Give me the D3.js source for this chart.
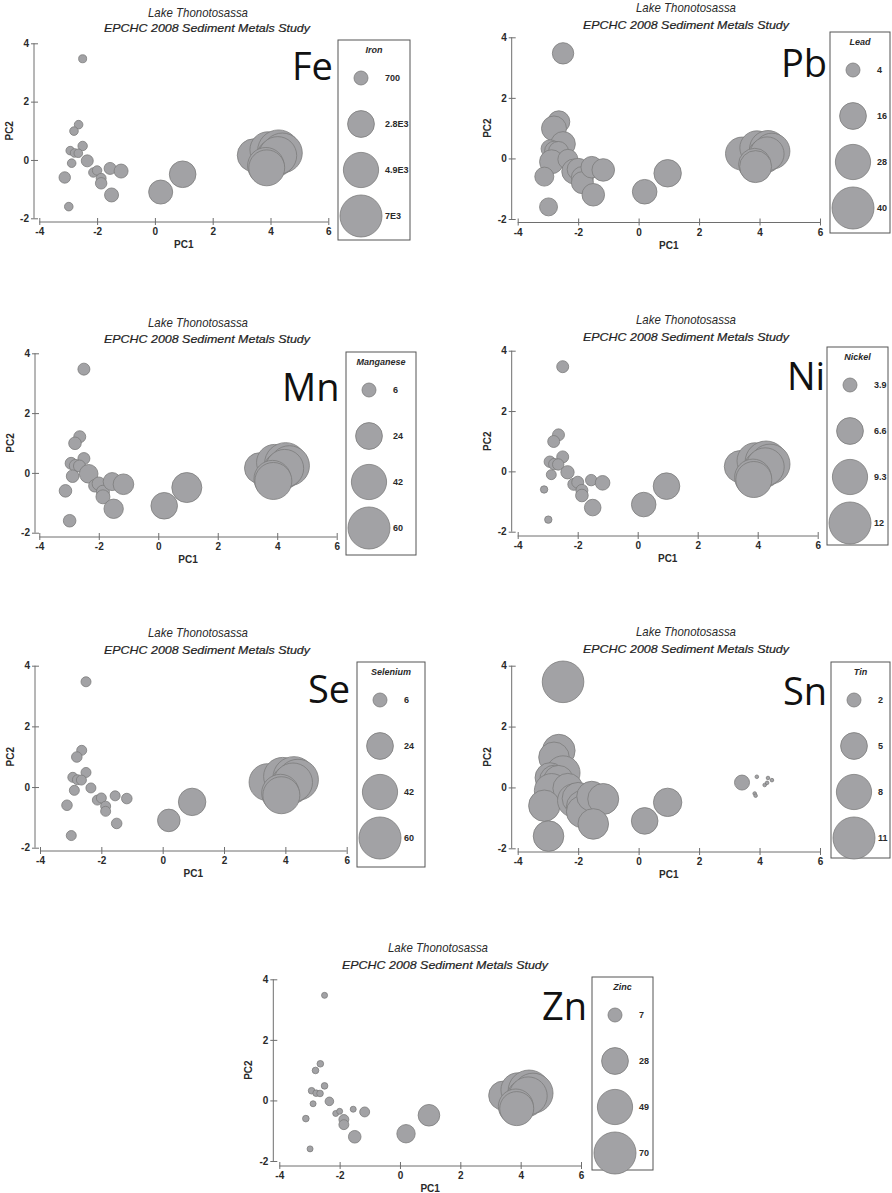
<!DOCTYPE html>
<html><head><meta charset="utf-8">
<script src="https://cdn.jsdelivr.net/npm/d3@7"></script>
<style>
html,body{margin:0;padding:0;background:#fff;}
svg{display:block;}
</style>
</head><body>
<svg id="chart" width="892" height="1193"></svg>
<script>
// ---- data (station scores on PC1/PC2, shared by all panels) ----
const pc1 = [-2.5,-2.64,-2.8,-2.5,-2.93,-2.78,-2.65,-2.88,-2.34,-3.12,-2.13,-2.0,-1.86,-1.86,-1.55,-1.17,-1.5,-2.98,0.2,0.96,3.42,3.91,4.28,4.41,4.17,4.25,3.84,3.87];
const pc2 = [3.47,1.21,0.99,0.48,0.32,0.24,0.23,-0.11,-0.03,-0.6,-0.43,-0.36,-0.63,-0.8,-0.29,-0.38,-1.2,-1.6,-1.1,-0.49,0.16,0.35,0.31,0.24,0.08,0.15,-0.2,-0.27];

// metal concentrations per station
const iron      = [170,210,210,270,210,210,210,210,490,440,270,270,310,440,490,700,700,210,2230,2760,4280,5100,7000,6300,5700,5700,5300,5100];
const lead      = [10.0,10.6,13.8,13.4,6.9,8.7,8.7,12.7,8.7,7.8,13.8,10.6,10.6,10.6,10.2,11.2,11.2,6.9,13.4,16.8,24.5,26,30.9,29.2,26,26,23.6,23];
const manganese = [4.2,4.2,4.7,4.2,4.2,4.7,4.2,4.7,11.2,4.7,4.7,5.4,5.1,6,10.4,13.9,12.2,4.7,23.6,30.3,32.3,43.9,60,54.4,49,49,46.4,46.4];
const nickel    = [3.63,3.63,3.63,3.63,3.56,3.56,3.56,3.4,3.8,3.17,3.63,3.63,3.63,3.71,3.56,3.99,4.31,3.17,6.0,6.54,8.18,9.58,12,11.15,10.35,10.35,9.81,9.58];
const selenium  = [2.7,2.7,3.1,2.7,2.7,2.7,2.7,2.7,2.7,3.1,2.7,2.7,2.7,2.7,2.7,3.1,3.1,2.7,16.8,25.2,46.4,49,60,57.1,51.6,51.6,47.9,46.4];
const tin       = [10.8,6.98,6.25,7.51,6.04,6.04,6.04,7.67,6.04,6.53,7.28,6.75,6.75,6.75,6.04,6.39,6.25,6.25,4.94,5.5,2.17,0.95,0.95,0.95,0.95,0.95,0.95,0.95];
const zinc      = [0.57,0.88,0.88,0.88,0.88,0.88,0.88,0.57,2.1,0.88,0.57,0.57,3.1,3.1,0.57,3.1,5.5,0.57,12.7,17.9,32.9,45.6,70,63.4,57.1,57.1,48.3,45.6];

// legend values and labels
const ironLegend = [700,2800,4900,7000];      const ironLabels = ["700","2.8E3","4.9E3","7E3"];
const leadLegend = [4,16,28,40];              const leadLabels = ["4","16","28","40"];
const mnLegend   = [6,24,42,60];              const mnLabels   = ["6","24","42","60"];
const niLegend   = [3.9,6.6,9.3,12];          const niLabels   = ["3.9","6.6","9.3","12"];
const seLegend   = [6,24,42,60];              const seLabels   = ["6","24","42","60"];
const snLegend   = [2,5,8,11];                const snLabels   = ["2","5","8","11"];
const znLegend   = [7,28,49,70];              const znLabels   = ["7","28","49","70"];

const xTicks = [-4,-2,0,2,4,6];
const yTicks = [-2,0,2,4];
const xTickLabels = ["-4","-2","0","2","4","6"];
const yTickLabels = ["-2","0","2","4"];

const titleText = "Lake Thonotosassa";
const subtitleText = "EPCHC 2008 Sediment Metals Study";

// ---- panel layout ----
const panels = [
  {sym:"Fe", name:"Iron", vals:iron, leg:ironLegend, labs:ironLabels,
   x0:39.3,x1:328.3,y4:43.3,yn2:218.3,ax:34,ay:222, tx:198,ty:17,sx:207,sy:32, symX:292,symY:80, lb:{x:338,y:40,w:72,h:200}},
  {sym:"Pb", name:"Lead", vals:lead, leg:leadLegend, labs:leadLabels,
   x0:517.7,x1:820,y4:37.3,yn2:219,ax:511.7,ay:222.5, tx:686,ty:12,sx:686,sy:29, symX:781,symY:77, lb:{x:830,y:32,w:60,h:201}},
  {sym:"Mn", name:"Manganese", vals:manganese, leg:mnLegend, labs:mnLabels,
   x0:39.3,x1:336.7,y4:353.3,yn2:532.7,ax:35,ay:537, tx:198,ty:327,sx:207,sy:343, symX:282,symY:401, lb:{x:346,y:352,w:70,h:203}},
  {sym:"Ni", name:"Nickel", vals:nickel, leg:niLegend, labs:niLabels,
   x0:517.7,x1:817.7,y4:350.7,yn2:531.7,ax:511.7,ay:536, tx:686,ty:324,sx:686,sy:341, symX:787,symY:390, lb:{x:827,y:347,w:61,h:198}},
  {sym:"Se", name:"Selenium", vals:selenium, leg:seLegend, labs:seLabels,
   x0:40,x1:346.7,y4:665.7,yn2:847.7,ax:35,ay:851, tx:198,ty:637,sx:207,sy:654, symX:308,symY:703, lb:{x:357,y:662,w:68,h:205}},
  {sym:"Sn", name:"Tin", vals:tin, leg:snLegend, labs:snLabels,
   x0:517.7,x1:820,y4:665.7,yn2:848.3,ax:511.7,ay:852, tx:686,ty:636,sx:686,sy:653, symX:783,symY:705, lb:{x:831,y:662,w:59,h:196}},
  {sym:"Zn", name:"Zinc", vals:zinc, leg:znLegend, labs:znLabels,
   x0:279.3,x1:581,y4:979.3,yn2:1161,ax:273.3,ay:1166, tx:438,ty:952,sx:445,sy:969, symX:542,symY:1020, lb:{x:592,y:977,w:61,h:193}}
];

const svg = d3.select("#chart");
const FILL = "#a2a2a5", STROKE = "#7c7c7c", AXIS = "#6e6e6e", TXT = "#2a2a2a";
const R0 = 7, RMAX = 21;

panels.forEach(p => {
  const g = svg.append("g");
  const x = d3.scaleLinear().domain([-4,6]).range([p.x0,p.x1]);
  const y = d3.scaleLinear().domain([-2,4]).range([p.yn2,p.y4]);
  const area = d3.scaleLinear().domain([p.leg[0], p.leg[3]]).range([R0*R0, RMAX*RMAX]);
  const rad = v => Math.sqrt(Math.max(1.5, area(v)));

  // titles
  g.append("text").attr("x",p.tx).attr("y",p.ty).attr("text-anchor","middle")
    .attr("font-family","Liberation Sans, Arial, sans-serif").attr("font-style","italic")
    .attr("font-size",13).attr("fill",TXT).attr("textLength",100).attr("lengthAdjust","spacingAndGlyphs")
    .text(titleText);
  g.append("text").attr("x",p.sx).attr("y",p.sy).attr("text-anchor","middle")
    .attr("font-family","Liberation Sans, Arial, sans-serif").attr("font-style","italic")
    .attr("font-size",11).attr("fill","#222").attr("stroke","#222").attr("stroke-width",0.2)
    .attr("textLength",206).attr("lengthAdjust","spacingAndGlyphs")
    .text(subtitleText);

  // axes
  const xa = d3.axisBottom(x).tickValues(xTicks).tickSize(0).tickFormat((d,i)=>xTickLabels[i]);
  const ya = d3.axisLeft(y).tickValues(yTicks).tickSize(0).tickFormat((d,i)=>yTickLabels[i]);
  const gx = g.append("g").attr("transform",`translate(0,${p.ay})`).call(xa);
  const gy = g.append("g").attr("transform",`translate(${p.ax},0)`).call(ya);
  [gx,gy].forEach(a=>{
    a.select(".domain").attr("stroke",AXIS).attr("stroke-width",1);
    a.selectAll("text").attr("font-family","Liberation Sans, Arial, sans-serif")
      .attr("font-weight","bold").attr("font-size",10).attr("fill",TXT);
  });
  gx.selectAll(".tick line").attr("y1",-4).attr("y2",3).attr("stroke",AXIS);
  gx.selectAll(".tick text").attr("dy","0").attr("y",13);
  gy.selectAll(".tick line").attr("x1",-3).attr("x2",4).attr("stroke",AXIS);
  gy.selectAll(".tick text").attr("x",-5);
  gx.select(".domain").attr("d",`M${p.x0},0H${p.x1}`);
  gy.select(".domain").attr("d",`M0,${p.y4}V${p.yn2}`);

  g.append("text").attr("x",(p.x0+p.x1)/2).attr("y",p.ay+26).attr("text-anchor","middle")
    .attr("font-family","Liberation Sans, Arial, sans-serif").attr("font-weight","bold")
    .attr("font-size",10).attr("fill",TXT).text("PC1");
  g.append("text").attr("transform",`translate(${p.ax-21},${(p.y4+p.yn2)/2}) rotate(-90)`)
    .attr("text-anchor","middle").attr("font-family","Liberation Sans, Arial, sans-serif")
    .attr("font-weight","bold").attr("font-size",10).attr("fill",TXT).text("PC2");

  // bubbles
  g.append("g").selectAll("circle").data(p.vals).join("circle")
    .attr("cx",(d,i)=>x(pc1[i])).attr("cy",(d,i)=>y(pc2[i])).attr("r",d=>rad(d))
    .attr("fill",FILL).attr("stroke",STROKE).attr("stroke-width",0.8);

  // big element symbol
  g.append("text").attr("x",p.symX).attr("y",p.symY)
    .attr("font-family","Open Sans, Noto Sans, sans-serif").attr("font-size",38)
    .attr("fill","#111").text(p.sym);

  // legend
  const lb = p.lb;
  const lg = g.append("g").attr("transform",`translate(${lb.x},${lb.y})`);
  lg.append("rect").attr("width",lb.w).attr("height",lb.h).attr("fill","#fff")
    .attr("stroke","#555").attr("stroke-width",1);
  lg.append("text").attr("x",lb.w/2).attr("y",13).attr("text-anchor","middle")
    .attr("font-family","Liberation Sans, Arial, sans-serif").attr("font-style","italic")
    .attr("font-weight","bold").attr("font-size",9).attr("fill",TXT).text(p.name);
  const ly = d3.scalePoint().domain(d3.range(4)).range([38,176]);
  const items = lg.selectAll("g.item").data(p.leg).join("g").attr("class","item")
    .attr("transform",(d,i)=>`translate(0,${ly(i)})`);
  items.append("circle").attr("cx",23).attr("r",d=>rad(d))
    .attr("fill",FILL).attr("stroke",STROKE).attr("stroke-width",0.8);
  items.append("text").attr("x",47).attr("dy","0.35em")
    .attr("font-family","Liberation Sans, Arial, sans-serif").attr("font-weight","bold")
    .attr("font-size",9).attr("fill",TXT).text((d,i)=>p.labs[i]);
});
</script>
</body></html>
